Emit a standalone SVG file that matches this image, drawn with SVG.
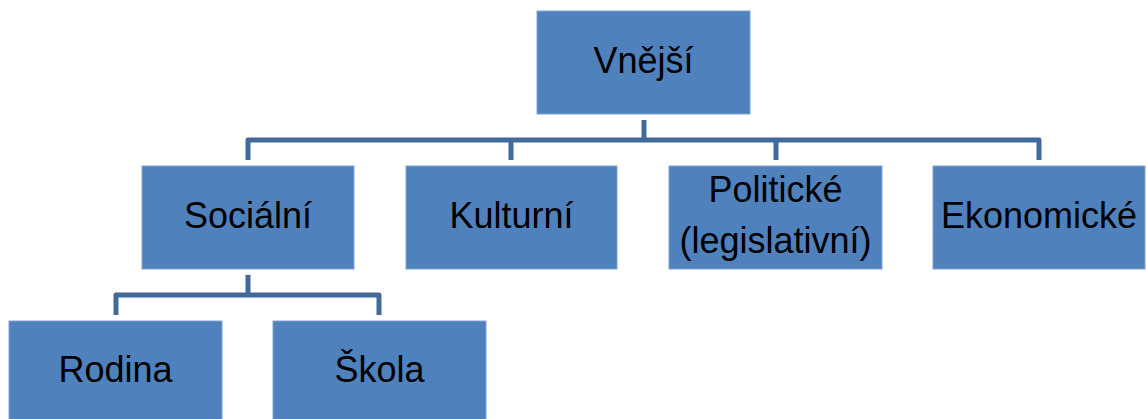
<svg xmlns="http://www.w3.org/2000/svg" width="1146" height="419" viewBox="0 0 1146 419">
<style>
.box{fill:#4F81BD;stroke:#7FA3D0;stroke-width:1}
.lbl{font-family:"Liberation Sans",Arial,sans-serif;font-size:36px;fill:#000;text-anchor:middle}
.conn{fill:none;stroke:#41699A;stroke-width:5;stroke-linejoin:round}
</style>
<rect width="1146" height="419" fill="#fff"/>
<g id="connectors">
<path class="conn" d="M644,120 V140"/>
<path class="conn" d="M248,160 V140 H1039 V160"/>
<path class="conn" d="M511,140 V160 M776,140 V160"/>
<path class="conn" d="M248,275 V295"/>
<path class="conn" d="M116,315 V295 H379 V315"/>
</g>
<g id="vnejsi"><rect class="box" x="537" y="11" width="213" height="103"/><text class="lbl" x="643.5" y="73">Vnější</text></g>
<g id="socialni"><rect class="box" x="142" y="166" width="212" height="103"/><text class="lbl" x="248" y="228">Sociální</text></g>
<g id="kulturni"><rect class="box" x="406" y="166" width="211" height="103"/><text class="lbl" x="511.5" y="228">Kulturní</text></g>
<g id="politicke"><rect class="box" x="669" y="166" width="213" height="103"/><text class="lbl" x="775.5" y="202">Politické</text><text class="lbl" x="775.5" y="253">(legislativní)</text></g>
<g id="ekonomicke"><rect class="box" x="933" y="166" width="212" height="103"/><text class="lbl" x="1039" y="228">Ekonomické</text></g>
<g id="rodina"><rect class="box" x="9" y="321" width="213" height="103"/><text class="lbl" x="115.5" y="382">Rodina</text></g>
<g id="skola"><rect class="box" x="273" y="321" width="213" height="103"/><text class="lbl" x="379.5" y="382">Škola</text></g>
</svg>
